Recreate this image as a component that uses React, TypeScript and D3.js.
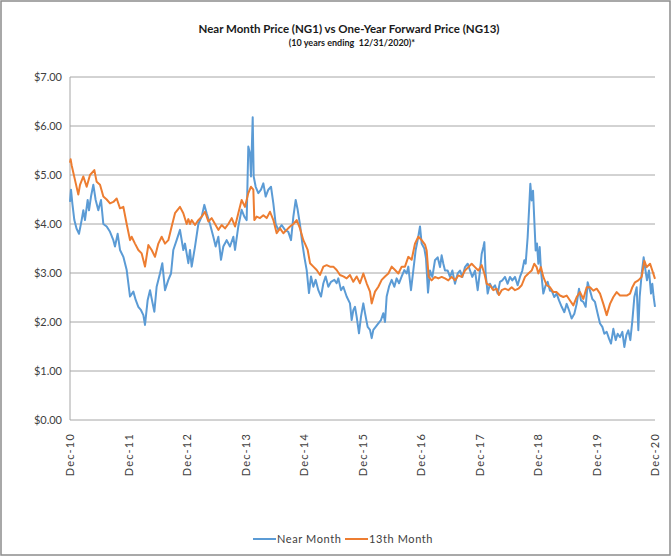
import React from 'react';
import * as d3 from 'd3';

const W = 672;
const H = 556;

const titleText = 'Near Month Price (NG1) vs One-Year Forward Price (NG13)';
const subtitleText = '(10 years ending  12/31/2020)*';
const seriesNames = ['Near Month', '13th Month'];
const seriesColors = ['#5B9BD5', '#ED7D31'];

const yTicks = [0, 1, 2, 3, 4, 5, 6, 7];
const xTickYears = [0, 1, 2, 3, 4, 5, 6, 7, 8, 9, 10];
const xTickLabels = ['Dec-10', 'Dec-11', 'Dec-12', 'Dec-13', 'Dec-14', 'Dec-15', 'Dec-16', 'Dec-17', 'Dec-18', 'Dec-19', 'Dec-20'];

// [years since Dec-2010, price $/MMBtu]
const nearMonth: [number, number][] = [
  [0.000,4.45],[0.017,4.7],[0.040,4.42],[0.074,4.08],[0.114,3.9],[0.154,3.8],[0.199,4.08],[0.228,4.28],[0.256,4.08],[0.302,4.49],[0.325,4.28],[0.359,4.56],[0.399,4.8],[0.439,4.49],[0.484,4.28],[0.530,4.49],[0.570,4.0],[0.627,3.95],[0.684,3.84],[0.741,3.67],[0.769,3.54],[0.815,3.8],[0.855,3.47],[0.912,3.33],[0.969,3.06],
  [1.026,2.52],[1.083,2.62],[1.123,2.45],[1.168,2.31],[1.214,2.24],[1.254,2.14],[1.282,1.94],[1.328,2.45],[1.368,2.65],[1.407,2.41],[1.442,2.21],[1.481,2.72],[1.538,2.99],[1.578,3.2],[1.624,2.65],[1.681,2.86],[1.727,2.99],[1.766,3.47],[1.823,3.67],[1.880,3.88],[1.937,3.47],[1.966,3.6],[1.994,3.4],
  [2.023,3.2],[2.051,3.47],[2.080,3.13],[2.108,3.33],[2.137,3.54],[2.194,4.0],[2.251,4.15],[2.296,4.39],[2.336,4.22],[2.393,4.0],[2.450,3.74],[2.490,3.54],[2.536,3.74],[2.581,3.27],[2.621,3.54],[2.678,3.67],[2.735,3.54],[2.792,3.74],[2.821,3.47],[2.877,3.95],[2.934,4.29],[2.980,4.15],
  [3.020,4.08],[3.048,5.58],[3.077,5.44],[3.094,4.97],[3.123,6.18],[3.140,4.97],[3.174,4.76],[3.219,4.63],[3.265,4.7],[3.305,4.83],[3.345,4.56],[3.390,4.7],[3.436,4.76],[3.476,4.42],[3.516,4.0],[3.561,3.88],[3.618,3.98],[3.675,3.88],[3.732,3.84],[3.778,3.67],[3.818,4.15],[3.858,4.49],[3.892,4.29],[3.932,3.98],[3.972,3.6],
  [4.006,3.33],[4.046,3.06],[4.085,2.59],[4.120,2.93],[4.160,2.72],[4.199,2.86],[4.245,2.65],[4.291,2.52],[4.331,2.79],[4.370,2.93],[4.416,2.72],[4.462,2.82],[4.519,2.86],[4.558,2.79],[4.587,2.89],[4.632,2.65],[4.672,2.72],[4.729,2.52],[4.786,2.38],[4.815,2.04],[4.843,2.24],[4.872,2.31],[4.900,2.11],[4.940,1.77],[4.974,2.11],
  [5.014,2.38],[5.043,2.18],[5.088,1.9],[5.128,1.84],[5.157,1.67],[5.185,1.84],[5.225,1.9],[5.271,1.97],[5.316,2.04],[5.356,2.18],[5.385,2.0],[5.413,2.52],[5.453,2.72],[5.499,2.86],[5.544,2.72],[5.584,2.89],[5.624,2.79],[5.670,2.93],[5.715,3.06],[5.755,2.99],[5.783,3.13],[5.829,2.65],[5.869,3.06],[5.909,3.47],[5.943,3.67],[5.983,3.95],
  [6.011,3.6],[6.057,3.5],[6.085,3.3],[6.120,2.6],[6.154,3.05],[6.194,2.92],[6.239,3.26],[6.285,3.32],[6.325,3.12],[6.353,3.36],[6.382,3.19],[6.410,3.05],[6.456,3.05],[6.496,2.92],[6.536,3.05],[6.581,2.78],[6.627,2.99],[6.667,3.05],[6.707,2.92],[6.752,3.12],[6.798,3.19],[6.838,3.05],[6.877,2.92],[6.923,3.05],[6.969,2.65],
  [7.009,3.05],[7.037,3.39],[7.066,3.53],[7.083,3.63],[7.105,2.99],[7.140,2.58],[7.179,2.78],[7.219,2.68],[7.265,2.75],[7.311,2.58],[7.350,2.82],[7.390,2.85],[7.436,2.92],[7.481,2.78],[7.521,2.92],[7.561,2.85],[7.607,2.92],[7.652,2.75],[7.692,2.92],[7.732,3.05],[7.766,3.26],[7.789,3.19],[7.823,3.73],[7.846,4.27],[7.869,4.82],[7.892,4.48],[7.915,4.68],[7.937,4.07],[7.960,3.46],[7.983,3.6],
  [8.006,3.19],[8.029,3.53],[8.051,3.05],[8.091,2.58],[8.131,2.75],[8.165,2.82],[8.205,2.64],[8.234,2.64],[8.279,2.51],[8.319,2.58],[8.359,2.44],[8.405,2.31],[8.450,2.2],[8.490,2.37],[8.530,2.24],[8.575,2.07],[8.621,2.17],[8.661,2.37],[8.701,2.68],[8.735,2.44],[8.775,2.41],[8.815,2.31],[8.849,2.81],[8.889,2.64],[8.929,2.47],[8.974,2.41],
  [9.020,2.17],[9.060,1.97],[9.100,1.9],[9.134,1.76],[9.174,1.8],[9.214,1.66],[9.248,1.56],[9.288,1.86],[9.328,1.63],[9.362,1.76],[9.402,1.69],[9.442,1.8],[9.476,1.49],[9.510,1.73],[9.544,1.83],[9.578,1.63],[9.613,2.03],[9.647,2.51],[9.687,2.71],[9.715,1.83],[9.738,2.51],[9.772,2.98],[9.806,3.32],[9.829,3.12],[9.863,2.85],[9.897,3.05],[9.932,2.58],[9.954,2.78],[9.977,2.51],[10.000,2.31],
];

const thirteenthMonth: [number, number][] = [
  [0.000,5.25],[0.011,5.32],[0.028,5.2],[0.085,4.9],[0.142,4.6],[0.171,4.8],[0.228,4.97],[0.285,4.76],[0.342,5.0],[0.416,5.1],[0.456,4.86],[0.513,4.8],[0.570,4.56],[0.627,4.5],[0.684,4.42],[0.741,4.45],[0.798,4.52],[0.855,4.32],[0.912,4.35],[0.969,4.0],
  [1.026,3.67],[1.054,3.74],[1.111,3.6],[1.168,3.47],[1.225,3.4],[1.282,3.13],[1.339,3.57],[1.396,3.47],[1.453,3.33],[1.510,3.6],[1.567,3.74],[1.624,3.6],[1.681,3.67],[1.738,3.95],[1.795,4.22],[1.880,4.35],[1.937,4.22],[1.994,4.0],
  [2.023,4.1],[2.051,4.0],[2.080,4.08],[2.137,3.98],[2.194,4.08],[2.251,4.15],[2.308,4.25],[2.365,4.05],[2.422,4.12],[2.479,4.0],[2.536,3.88],[2.593,3.98],[2.650,3.91],[2.707,4.0],[2.764,4.12],[2.821,3.95],[2.877,4.22],[2.934,4.49],[2.991,4.35],
  [3.048,4.63],[3.094,4.76],[3.134,4.7],[3.151,4.08],[3.191,4.15],[3.248,4.12],[3.305,4.18],[3.362,4.12],[3.419,4.25],[3.476,4.08],[3.533,3.81],[3.590,3.91],[3.647,3.81],[3.704,3.88],[3.761,3.95],[3.818,4.0],[3.875,4.08],[3.932,3.91],[3.989,3.67],
  [4.017,3.6],[4.063,3.47],[4.103,3.2],[4.160,3.13],[4.217,3.06],[4.274,2.96],[4.331,3.13],[4.387,3.16],[4.444,3.13],[4.501,3.13],[4.558,3.06],[4.615,2.96],[4.672,2.93],[4.729,2.89],[4.786,2.96],[4.843,2.82],[4.900,2.93],[4.957,2.79],
  [5.014,2.99],[5.071,2.79],[5.128,2.62],[5.157,2.38],[5.214,2.62],[5.271,2.72],[5.328,2.86],[5.385,2.93],[5.442,2.99],[5.499,3.13],[5.556,3.06],[5.613,2.99],[5.670,3.13],[5.726,3.13],[5.783,3.33],[5.840,3.27],[5.897,3.6],[5.954,3.74],
  [6.011,3.67],[6.068,3.58],[6.097,3.46],[6.131,2.92],[6.182,2.85],[6.239,2.92],[6.296,2.89],[6.353,2.92],[6.410,2.89],[6.467,2.85],[6.524,2.92],[6.581,2.85],[6.638,2.95],[6.695,2.92],[6.752,3.05],[6.809,3.12],[6.866,3.19],[6.923,3.12],[6.980,3.05],
  [7.037,3.16],[7.083,2.99],[7.123,2.78],[7.179,2.75],[7.236,2.65],[7.293,2.68],[7.333,2.55],[7.379,2.65],[7.436,2.68],[7.493,2.65],[7.550,2.71],[7.607,2.65],[7.664,2.68],[7.721,2.75],[7.778,2.92],[7.835,2.99],[7.892,3.05],[7.937,3.19],[7.977,3.12],
  [8.006,2.99],[8.051,3.12],[8.091,2.92],[8.148,2.75],[8.205,2.71],[8.262,2.61],[8.319,2.61],[8.376,2.54],[8.433,2.51],[8.490,2.54],[8.547,2.44],[8.604,2.34],[8.661,2.51],[8.718,2.61],[8.775,2.47],[8.832,2.71],[8.889,2.71],[8.946,2.64],
  [9.003,2.68],[9.060,2.58],[9.117,2.37],[9.174,2.14],[9.231,2.37],[9.288,2.51],[9.345,2.61],[9.402,2.54],[9.459,2.54],[9.516,2.54],[9.573,2.58],[9.613,2.71],[9.658,2.81],[9.715,2.85],[9.772,2.92],[9.818,3.25],[9.858,3.12],[9.915,3.19],[9.954,3.05],[10.000,2.88],
];

const FONT = 'Lato, "Open Sans", "Liberation Sans", sans-serif';

export default function App() {
  const margin = { left: 70, right: 17, top: 77, bottom: 136 };
  const x = d3.scaleLinear().domain([0, 10]).range([margin.left, W - margin.right]);
  const y = d3.scaleLinear().domain([0, 7]).range([H - margin.bottom, margin.top]);
  const line = d3.line<[number, number]>().x(d => x(d[0])).y(d => y(d[1]));
  const series = [nearMonth, thirteenthMonth];
  const x0 = x(0), x1 = x(10);

  return (
    <svg width={W} height={H} style={{ position: 'absolute', left: 0, top: 0, background: '#fff' }} fontFamily={FONT}>
      <rect x={1} y={1} width={W - 3} height={H - 2} fill="#fff" stroke="#8c8c8c" strokeWidth={1.5} />
      <text x={349} y={33} textAnchor="middle" fontSize={11.5} fontWeight="bold" fill="#1a1a1a">{titleText}</text>
      <text x={352} y={46} textAnchor="middle" fontSize={9} fontWeight="bold" fill="#1a1a1a" style={{ whiteSpace: 'pre' }}>{subtitleText}</text>
      {yTicks.map(t => (
        <g key={t}>
          <line x1={x0} x2={x1} y1={y(t)} y2={y(t)} stroke="#a6a6a6" strokeWidth={1} />
          <text x={62} y={y(t)} dy="0.35em" textAnchor="end" fontSize={11} fill="#404040">{d3.format('$.2f')(t)}</text>
        </g>
      ))}
      <line x1={x0} x2={x0} y1={y(0)} y2={y(7)} stroke="#a6a6a6" strokeWidth={1} />
      {xTickYears.map((t, i) => (
        <text key={t} transform={`translate(${x(t) + 4},${y(0) + 13}) rotate(-90)`} textAnchor="end" fontSize={11} letterSpacing={1.2} fill="#404040">{xTickLabels[i]}</text>
      ))}
      {series.map((s, i) => (
        <path key={i} d={line(s) || ''} fill="none" stroke={seriesColors[i]} strokeWidth={2} strokeLinejoin="round" />
      ))}
      {seriesNames.map((n, i) => (
        <g key={n} transform={`translate(${253 + i * 92},539)`}>
          <line x1={0} x2={23} y1={0} y2={0} stroke={seriesColors[i]} strokeWidth={2} />
          <text x={24} y={0} dy="0.35em" fontSize={11} letterSpacing={0.6} fill="#404040">{n}</text>
        </g>
      ))}
    </svg>
  );
}
